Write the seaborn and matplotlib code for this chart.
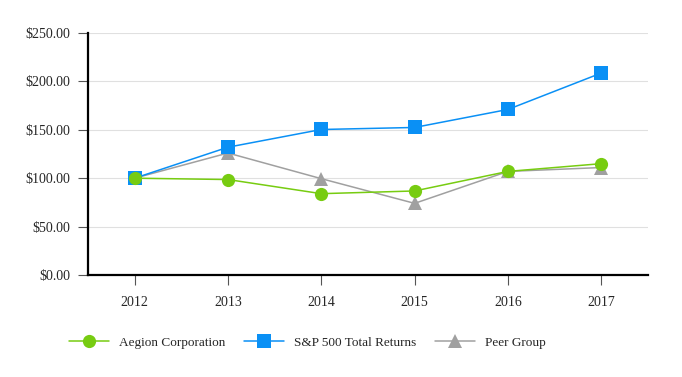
import pandas as pd
import matplotlib
matplotlib.use("Agg")
import matplotlib.pyplot as plt
import seaborn as sns

years = [2012, 2013, 2014, 2015, 2016, 2017]
aegion = [100.0, 98.6, 84.0, 86.8, 107.0, 115.0]
sp500 = [100.0, 132.0, 150.3, 152.4, 171.0, 208.6]
peer = [100.0, 126.0, 99.5, 74.0, 107.0, 111.0]
series_names = ["Aegion Corporation", "S&P 500 Total Returns", "Peer Group"]
yticks = [0, 50, 100, 150, 200, 250]

df = pd.DataFrame({
    "year": years * 3,
    "value": aegion + sp500 + peer,
    "series": [series_names[0]] * 6 + [series_names[1]] * 6 + [series_names[2]] * 6,
})

sns.set_style("white")
plt.rcParams["font.family"] = ["Liberation Serif", "DejaVu Serif"]
plt.rcParams["font.size"] = 10

fig = plt.figure(figsize=(6.82, 3.77), dpi=100)
ax = fig.add_axes([0.129, 0.2706, 0.821, 0.6419])

palette = {series_names[0]: "#77cc11", series_names[1]: "#0a90f5", series_names[2]: "#a0a0a0"}
markers = {series_names[0]: "o", series_names[1]: "s", series_names[2]: "^"}

sns.lineplot(data=df, x="year", y="value", hue="series", style="series",
             palette=palette, markers=markers, dashes=False, markersize=9.5,
             markeredgewidth=0, linewidth=1.1, ax=ax, legend=True)

# green on top, grey at the bottom
zorders = {series_names[0]: 5, series_names[1]: 4, series_names[2]: 3}
for line, name in zip(ax.lines, series_names):
    line.set_zorder(zorders[name])

ax.set_xlim(2011.5, 2017.5)
ax.set_ylim(0, 250)
ax.set_xticks(years)
ax.set_xticklabels([str(y) for y in years])
ax.set_yticks(yticks)
ax.set_yticklabels(["${:.2f}".format(v) for v in yticks])
ax.set_xlabel("")
ax.set_ylabel("")
ax.yaxis.grid(True, color="#e0e0e0", linewidth=0.8)
ax.set_axisbelow(True)

for s in ["top", "right"]:
    ax.spines[s].set_visible(False)
for s in ["left", "bottom"]:
    ax.spines[s].set_color("black")
    ax.spines[s].set_linewidth(1.6)

ax.tick_params(axis="both", which="both", direction="out", length=7, width=0.8,
               color="#555555", labelsize=10, left=True, bottom=True)
ax.tick_params(axis="y", pad=6)
ax.tick_params(axis="x", pad=8)

handles, labels = ax.get_legend_handles_labels()
ax.legend(handles, labels, loc="center", bbox_to_anchor=(0.392, -0.281), ncol=3,
          frameon=False, fontsize=9.5, handlelength=3.0, columnspacing=1.45,
          handletextpad=0.76, borderaxespad=0)

fig.savefig("out.png", dpi=100)
